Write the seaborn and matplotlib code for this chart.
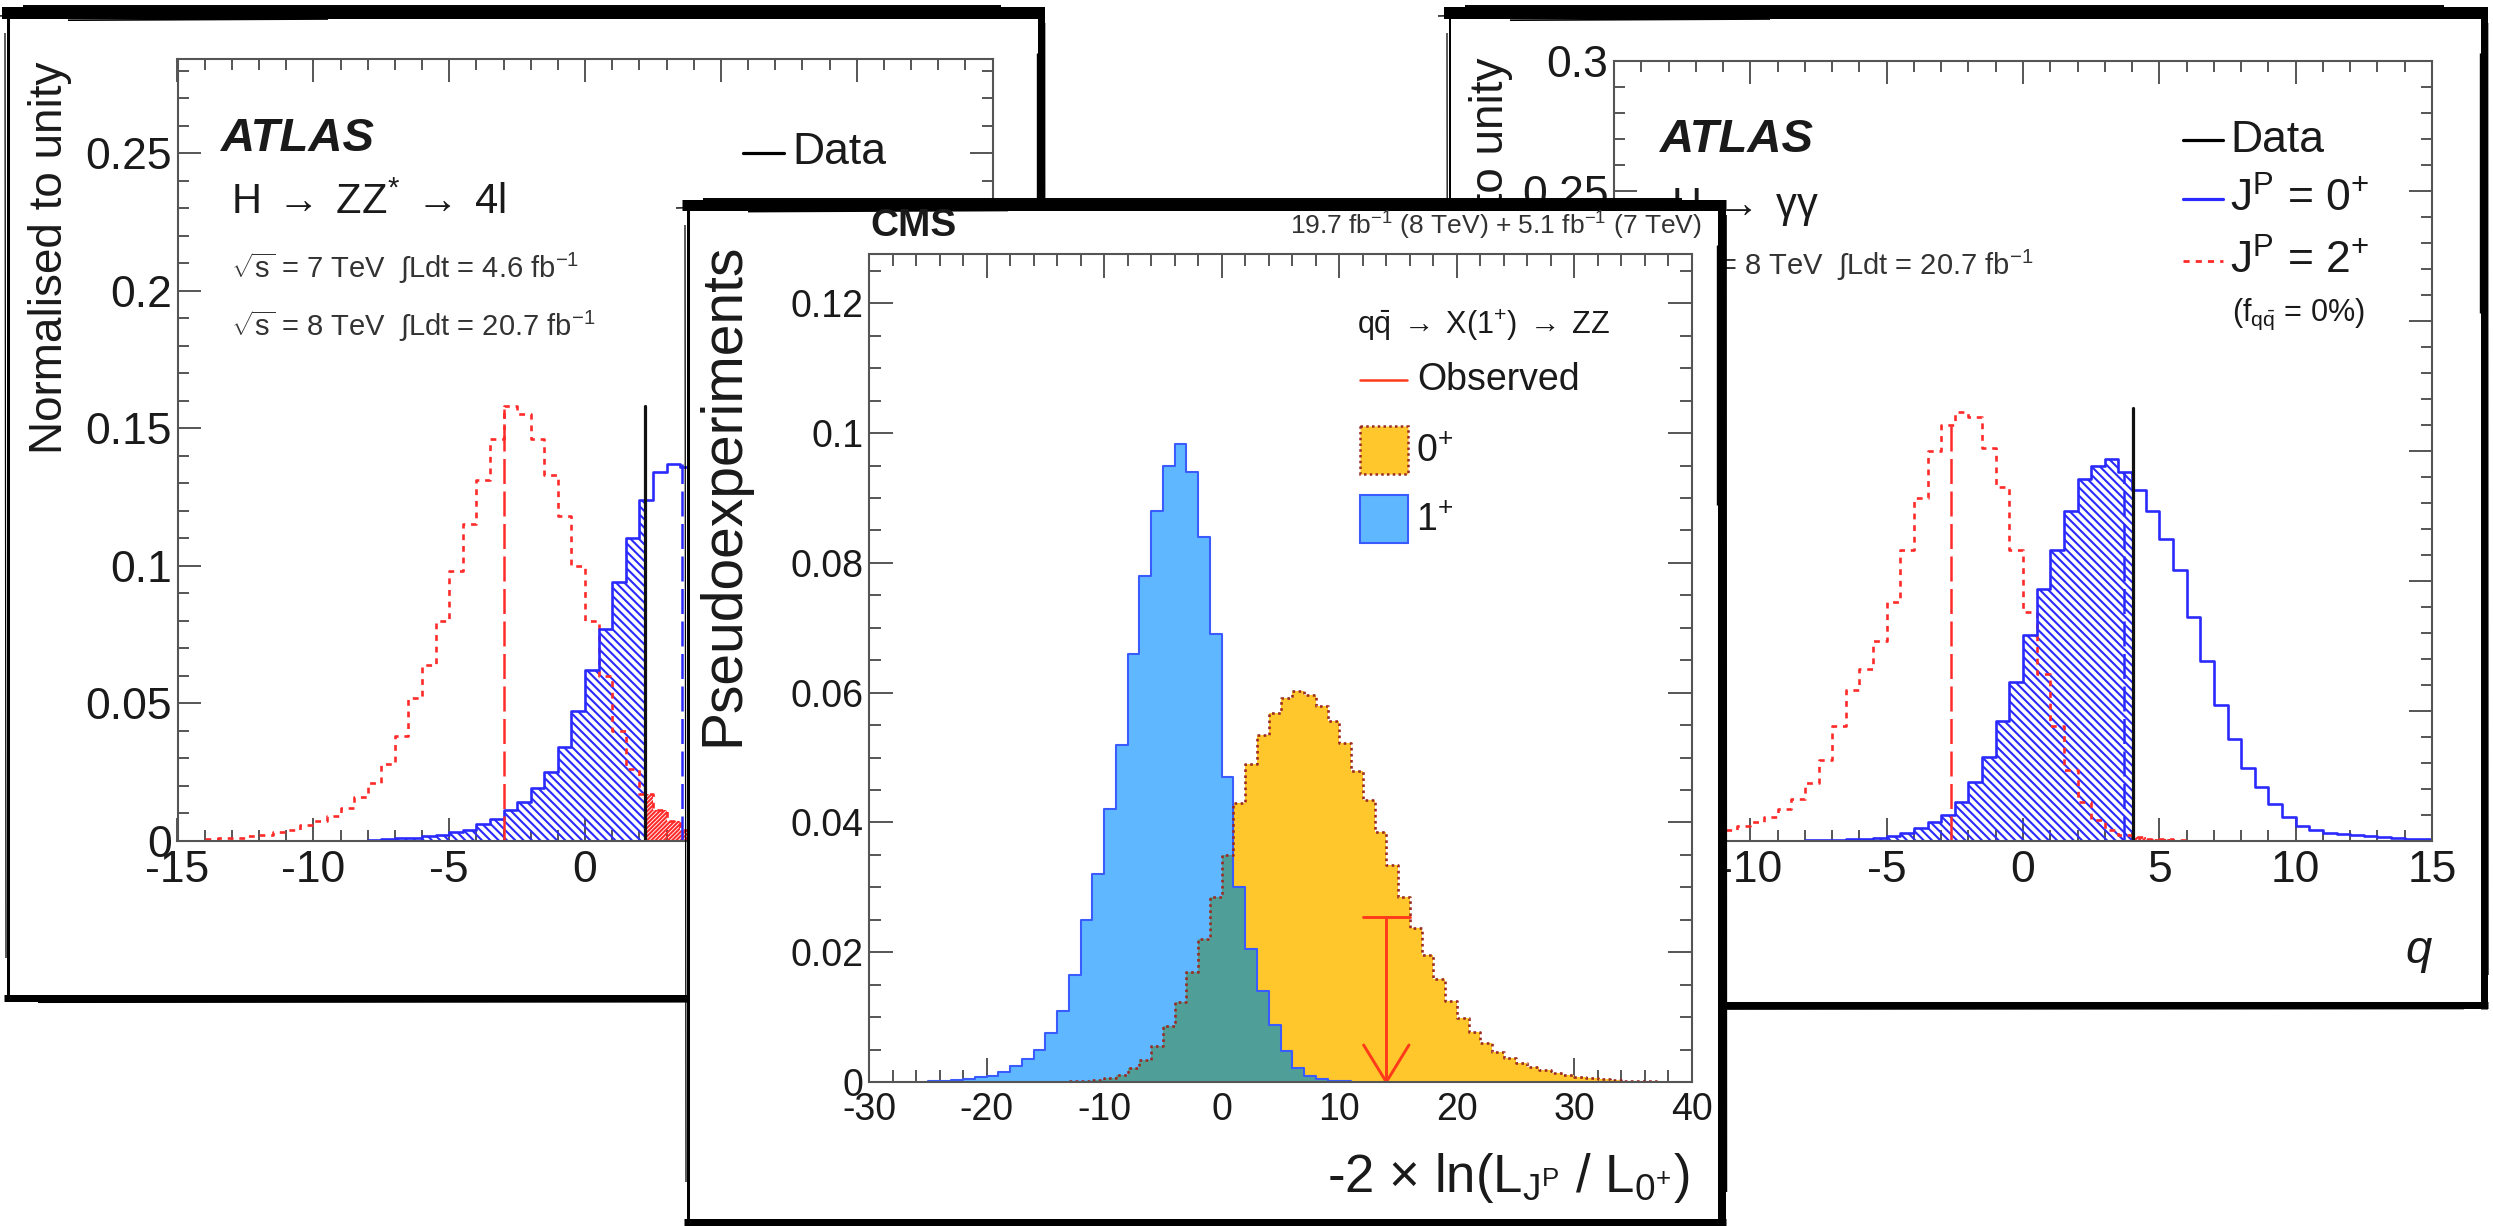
import numpy as np
import pandas as pd
import matplotlib
matplotlib.use("Agg")
import matplotlib.pyplot as plt
import matplotlib.transforms as mtransforms
from matplotlib.patches import Rectangle
from matplotlib.ticker import MultipleLocator
import seaborn as sns

W, H = 2493, 1226

# ---------------- ATLAS  H -> ZZ* -> 4l ----------------
zz_bin_width = 0.5
zz_spin2_first_centre = -13.75
zz_spin2 = [0.0005, 0.0008, 0.001, 0.0015, 0.002, 0.003, 0.004, 0.0055, 0.007, 0.009,
            0.012, 0.016, 0.021, 0.028, 0.038, 0.052, 0.064, 0.080, 0.098, 0.115,
            0.131, 0.146, 0.158, 0.155, 0.146, 0.133, 0.118, 0.100, 0.080, 0.060,
            0.040, 0.026, 0.017, 0.011, 0.007, 0.004, 0.002, 0.001]
zz_spin0_first_centre = -7.75
zz_spin0 = [0.0003, 0.0005, 0.0008, 0.001, 0.0015, 0.002, 0.003, 0.004, 0.006, 0.008,
            0.011, 0.014, 0.019, 0.025, 0.034, 0.047, 0.062, 0.077, 0.094, 0.110,
            0.124, 0.134, 0.137, 0.136, 0.131, 0.122, 0.110, 0.096, 0.080, 0.064,
            0.049, 0.036, 0.025, 0.017, 0.011, 0.007, 0.004]
zz_data_q = 2.2
zz_data_top = 0.158
zz_spin2_median = -3.0
zz_spin2_median_top = 0.157
zz_spin0_median = 3.55
zz_spin0_median_top = 0.137
zz_yticks = [0, 0.05, 0.1, 0.15, 0.2, 0.25]
zz_ytick_labels = ["0", "0.05", "0.1", "0.15", "0.2", "0.25"]
zz_ymax = 0.2842

# ---------------- ATLAS  H -> gamma gamma ----------------
gg_bin_width = 0.5
gg_spin2_first_centre = -11.75
gg_spin2 = [0.002, 0.003, 0.004, 0.0055, 0.007, 0.009, 0.012, 0.016, 0.022, 0.031,
            0.044, 0.058, 0.066, 0.077, 0.092, 0.112, 0.132, 0.150, 0.160, 0.165,
            0.163, 0.151, 0.136, 0.112, 0.088, 0.064, 0.044, 0.027, 0.015, 0.008,
            0.004, 0.002, 0.0012, 0.0008, 0.0005, 0.0003]
gg_spin0_first_centre = -7.75
gg_spin0 = [0.0002, 0.0003, 0.0004, 0.0006, 0.0008, 0.0011, 0.0017, 0.0030, 0.0048, 0.0072,
            0.0100, 0.0150, 0.0225, 0.0320, 0.0460, 0.0610, 0.0790, 0.0970, 0.1120, 0.1270,
            0.1390, 0.1440, 0.1470, 0.1420, 0.1350, 0.1270, 0.1160, 0.1040, 0.0860, 0.0690,
            0.0520, 0.0390, 0.0280, 0.0205, 0.0140, 0.0090, 0.0058, 0.0040, 0.0030, 0.0024,
            0.0020, 0.0017, 0.0014, 0.0011, 0.0008, 0.0005]
gg_data_q = 4.02
gg_data_top = 0.1665
gg_spin2_median = -2.65
gg_spin2_median_top = 0.160
gg_spin0_median = 3.7
gg_spin0_median_top = 0.142
gg_yticks = [0, 0.05, 0.1, 0.15, 0.2, 0.25, 0.3]
gg_ytick_labels = ["0", "0.05", "0.1", "0.15", "0.2", "0.25", "0.3"]
gg_ymax = 0.3

atlas_xticks = [-15, -10, -5, 0, 5, 10, 15]
atlas_xtick_labels = ["-15", "-10", "-5", "0", "5", "10", "15"]

# ---------------- CMS  qqbar -> X(1+) -> ZZ ----------------
cms_bin_width = 1.0
cms_spin1_first_centre = -24.5
cms_spin1 = [0.0001, 0.0002, 0.0003, 0.0004, 0.0007, 0.0010, 0.0016, 0.0024, 0.0035, 0.0050,
             0.0075, 0.0110, 0.0165, 0.0250, 0.0320, 0.0420, 0.0520, 0.0660, 0.0780, 0.0880,
             0.0950, 0.0983, 0.0940, 0.0840, 0.0690, 0.0470, 0.0300, 0.0205, 0.0140, 0.0088,
             0.0048, 0.0022, 0.0009, 0.0004, 0.0002, 0.0001]
cms_spin0_first_centre = -12.5
cms_spin0 = [0.0001, 0.0002, 0.0003, 0.0006, 0.0011, 0.0021, 0.0034, 0.0056, 0.0086, 0.0124,
             0.0170, 0.0220, 0.0285, 0.0350, 0.0430, 0.0490, 0.0535, 0.0568, 0.0592, 0.0602,
             0.0597, 0.0580, 0.0556, 0.0522, 0.0480, 0.0435, 0.0385, 0.0335, 0.0285, 0.0238,
             0.0195, 0.0158, 0.0125, 0.0098, 0.0077, 0.0060, 0.0047, 0.0037, 0.0029, 0.0023,
             0.0018, 0.0014, 0.0011, 0.0008, 0.0006, 0.0004, 0.0003, 0.0002, 0.0001, 0.0001]
cms_observed = 14.0
cms_observed_top = 0.0254
cms_xticks = [-30, -20, -10, 0, 10, 20, 30, 40]
cms_xtick_labels = ["-30", "-20", "-10", "0", "10", "20", "30", "40"]
cms_yticks = [0, 0.02, 0.04, 0.06, 0.08, 0.1, 0.12]
cms_ytick_labels = ["0", "0.02", "0.04", "0.06", "0.08", "0.1", "0.12"]
cms_ymax = 0.1276

# ---------------- colours ----------------
A_RED = "#ff2a2a"
A_BLUE = "#2a2aff"
C_ORANGE = "#ffc72c"
C_LBLUE = "#5fb8ff"
C_BLUE_EDGE = "#3a5cff"
C_TEAL = "#4f9f98"
C_DARKRED = "#9b2a22"
C_OBS = "#ff3a1a"
AX_GREY = "#555555"

# ---------------- style ----------------
sns.set_style("ticks")
plt.rcParams["font.family"] = ["Liberation Sans", "DejaVu Sans"]
plt.rcParams["mathtext.fontset"] = "custom"
plt.rcParams["mathtext.rm"] = "Liberation Sans"
plt.rcParams["mathtext.it"] = "Liberation Sans:italic"
plt.rcParams["mathtext.bf"] = "Liberation Sans:bold"
plt.rcParams["mathtext.sf"] = "Liberation Sans"
plt.rcParams["axes.unicode_minus"] = False
plt.rcParams["hatch.linewidth"] = 1.5
for ax_name in ("xtick", "ytick"):
    plt.rcParams[f"{ax_name}.direction"] = "in"
    plt.rcParams[f"{ax_name}.color"] = AX_GREY
    plt.rcParams[f"{ax_name}.major.width"] = 1.4
    plt.rcParams[f"{ax_name}.minor.width"] = 1.4
    plt.rcParams[f"{ax_name}.minor.visible"] = True
plt.rcParams["xtick.top"] = True
plt.rcParams["xtick.bottom"] = True
plt.rcParams["ytick.left"] = True
plt.rcParams["ytick.right"] = True
TXT = "#1a1a1a"

fig = plt.figure(figsize=(W / 100, H / 100), dpi=100)
PX = mtransforms.Affine2D().scale(1.0 / W, -1.0 / H).translate(0, 1) + fig.transFigure


def rect(x0, y0, x1, y1):
    return [x0 / W, 1 - y1 / H, (x1 - x0) / W, (y1 - y0) / H]


def hist_frame(first_centre, width, values):
    vals = np.asarray(values, float)
    centres = first_centre + width * np.arange(len(vals))
    edges = np.append(centres - width / 2, centres[-1] + width / 2)
    return pd.DataFrame({"q": centres, "w": vals}), edges


def hist(ax, df, edges, width, **kw):
    sns.histplot(data=df, x="q", weights="w", binwidth=width,
                 binrange=(float(edges[0]), float(edges[-1])), element="step", ax=ax, **kw)


def clipped_steps(df, edges, lo, hi):
    vals = df["w"].to_numpy()
    xs = [lo] + [e for e in edges if lo < e < hi] + [hi]

    def val_at(x):
        i = np.searchsorted(edges, x, side="right") - 1
        return vals[i] if 0 <= i < len(vals) else 0.0

    ys = [val_at(x) for x in xs[:-1]]
    ys.append(ys[-1])
    return np.array(xs), np.array(ys)


def card(x0, y0, x1, y1, lw_top, lw_right, lw_bottom, lw_left):
    ax = fig.add_axes(rect(x0, y0, x1, y1))
    ax.set_axis_off()
    ax.add_patch(Rectangle((0, 0), 1, 1, transform=ax.transAxes,
                           facecolor="white", edgecolor="none", zorder=0))
    k = dict(color="black", transform=PX, clip_on=False, solid_capstyle="butt")
    ax.plot([x0 - 6, x1 + 4], [y0, y0], lw=lw_top * 0.72, **k)
    ax.plot([x1, x1], [y0 - 4, y1 + 4], lw=lw_right * 0.72, **k)
    ax.plot([x0 - 4, x1 + 4], [y1, y1], lw=lw_bottom * 0.72, **k)
    ax.plot([x0, x0], [y0 - 2, y1 + 2], lw=lw_left * 0.72, **k)
    ax.plot([x0 + 15, x1 - 40], [y0 - lw_top * 0.55, y0 - lw_top * 0.55], lw=1.4, **k)
    ax.plot([x0 + 60, x0 + 320], [y0 + lw_top * 0.6, y0 + lw_top * 0.5], lw=1.2, **k)
    ax.plot([x0 - 12, x0 + 40], [y0 + 3, y0 + 2], lw=1.0, **k)
    ax.plot([x1 + lw_right * 0.5, x1 + lw_right * 0.55], [y0 + 10, y1 - 30], lw=1.2, **k)
    ax.plot([x1 - lw_right * 0.6, x1 - lw_right * 0.6], [y0 + 40, y0 + 300], lw=1.0, **k)
    ax.plot([x0 + 30, x1 - 20], [y1 + lw_bottom * 0.6, y1 + lw_bottom * 0.5], lw=1.2, **k)
    ax.plot([x0 - 3, x0 - 2], [y0 + 20, y1 - 40], lw=0.9, **k)
    return ax


def style_axes(ax, major_len, minor_len, labelsize, pad_x, pad_y):
    ax.minorticks_on()
    for which, length in (("major", major_len), ("minor", minor_len)):
        ax.tick_params(axis="both", which=which, direction="in", length=length,
                       width=1.4, color=AX_GREY, bottom=True, top=True, left=True,
                       right=True)
    ax.tick_params(axis="both", which="major", labelsize=labelsize, labelcolor=TXT)
    ax.tick_params(axis="x", which="major", pad=pad_x)
    ax.tick_params(axis="y", which="major", pad=pad_y)
    for s in ax.spines.values():
        s.set_color(AX_GREY)
        s.set_linewidth(1.5)
        s.set_visible(True)
    ax.set_xlabel("")
    ax.set_ylabel("")


def atlas_panel(ax, s2, e2, s0, e0, width, data_q, data_top, m2, m2_top, m0, m0_top,
                ymax, yticks, ylabels):
    xs, ys = clipped_steps(s0, e0, -15, data_q)
    ax.fill_between(xs, 0, ys, step="post", facecolor="none", edgecolor=A_BLUE,
                    hatch="\\\\\\\\", linewidth=0)
    xs, ys = clipped_steps(s2, e2, data_q, 15)
    ax.fill_between(xs, 0, ys, step="post", facecolor="none", edgecolor=A_RED,
                    hatch="////////", linewidth=0)
    hist(ax, s2, e2, width, fill=False, color=A_RED, linewidth=1.9,
         linestyle=(0, (2.2, 2.2)))
    hist(ax, s0, e0, width, fill=False, color=A_BLUE, linewidth=1.9)
    ax.plot([m2, m2], [0, m2_top], color=A_RED, lw=1.8, linestyle=(0, (10, 3)))
    ax.plot([m0, m0], [0, m0_top], color=A_BLUE, lw=1.8, linestyle=(0, (10, 3)))
    ax.plot([data_q, data_q], [0, data_top], color="#111111", lw=2.3)
    ax.set_xlim(-15, 15)
    ax.set_ylim(0, ymax)
    ax.set_xticks(atlas_xticks, atlas_xtick_labels)
    ax.set_yticks(yticks, ylabels)
    style_axes(ax, 16.5, 8, 32, 7, 4)
    ax.xaxis.set_minor_locator(MultipleLocator(1))
    ax.yaxis.set_minor_locator(MultipleLocator(0.01))


# ================= left card: ATLAS ZZ =================
card(8, 13, 1041, 998, 12, 7, 7, 3)
ax1 = fig.add_axes(rect(177.5, 59, 992.6, 840.6))
zz2_df, zz2_edges = hist_frame(zz_spin2_first_centre, zz_bin_width, zz_spin2)
zz0_df, zz0_edges = hist_frame(zz_spin0_first_centre, zz_bin_width, zz_spin0)
atlas_panel(ax1, zz2_df, zz2_edges, zz0_df, zz0_edges, zz_bin_width, zz_data_q, zz_data_top,
            zz_spin2_median, zz_spin2_median_top, zz_spin0_median, zz_spin0_median_top,
            zz_ymax, zz_yticks, zz_ytick_labels)
ax1.text(50, 61, "Normalised to unity", transform=PX, rotation=90, ha="center",
         va="top", fontsize=33, color=TXT)
ax1.text(221, 139, "ATLAS", transform=PX, fontsize=34, fontweight="bold",
         fontstyle="italic", ha="left", va="center", color=TXT)
ax1.text(231, 203, r"H$\;\rightarrow\;$ZZ$^{*}\;\rightarrow\;$4l", transform=PX,
         fontsize=30, ha="left", va="center", color=TXT)
ax1.text(231, 268, r"$\sqrt{\mathrm{s}}$ = 7 TeV  $\int$Ldt = 4.6 fb$^{\mathrm{-1}}$",
         transform=PX, fontsize=21, ha="left", va="center", color="#333333")
ax1.text(231, 326, r"$\sqrt{\mathrm{s}}$ = 8 TeV  $\int$Ldt = 20.7 fb$^{\mathrm{-1}}$",
         transform=PX, fontsize=21, ha="left", va="center", color="#333333")
ax1.plot([743, 784], [153, 153], transform=PX, color="black", lw=2.3, clip_on=False)
ax1.text(792, 153, "Data", transform=PX, fontsize=32, ha="left", va="center", color=TXT)

# ================= right card: ATLAS gamma gamma =================
card(1450, 13, 2484, 1005, 12, 7, 7, 2)
ax2 = fig.add_axes(rect(1614, 61, 2432, 840.6))
gg2_df, gg2_edges = hist_frame(gg_spin2_first_centre, gg_bin_width, gg_spin2)
gg0_df, gg0_edges = hist_frame(gg_spin0_first_centre, gg_bin_width, gg_spin0)
atlas_panel(ax2, gg2_df, gg2_edges, gg0_df, gg0_edges, gg_bin_width, gg_data_q, gg_data_top,
            gg_spin2_median, gg_spin2_median_top, gg_spin0_median, gg_spin0_median_top,
            gg_ymax, gg_yticks, gg_ytick_labels)
ax2.text(1491, 57, "Normalised to unity", transform=PX, rotation=90, ha="center",
         va="top", fontsize=33, color=TXT)
ax2.text(1660, 140, "ATLAS", transform=PX, fontsize=34, fontweight="bold",
         fontstyle="italic", ha="left", va="center", color=TXT)
ax2.text(1671, 207, r"H$\;\rightarrow\;$γγ", transform=PX, fontsize=30, ha="left",
         va="center", color=TXT)
ax2.text(1669, 265, r"$\sqrt{\mathrm{s}}$ = 8 TeV  $\int$Ldt = 20.7 fb$^{\mathrm{-1}}$",
         transform=PX, fontsize=21, ha="left", va="center", color="#333333")
ax2.plot([2183, 2223], [140, 140], transform=PX, color="black", lw=2.3, clip_on=False)
ax2.text(2230, 140, "Data", transform=PX, fontsize=32, ha="left", va="center", color=TXT)
ax2.plot([2183, 2223], [199, 199], transform=PX, color=A_BLUE, lw=2.3, clip_on=False)
ax2.text(2230, 199, r"J$^{\mathrm{P}}$ = 0$^{+}$", transform=PX, fontsize=32, ha="left",
         va="center", color=TXT)
ax2.plot([2183, 2223], [261, 261], transform=PX, color=A_RED, lw=2.0,
         linestyle=(0, (2.2, 2.2)), clip_on=False)
ax2.text(2230, 261, r"J$^{\mathrm{P}}$ = 2$^{+}$", transform=PX, fontsize=32, ha="left",
         va="center", color=TXT)
ax2.text(2232, 314, r"(f$_{\mathrm{q\bar{q}}}$ = 0%)", transform=PX, fontsize=22,
         ha="left", va="center", color=TXT)
ax2.text(2432, 951, "q", transform=PX, fontsize=34, fontstyle="italic", ha="right",
         va="center", color=TXT)

# ================= centre card: CMS =================
card(688, 205, 1722, 1222, 11, 8, 7, 3)
ax3 = fig.add_axes(rect(869, 254, 1692, 1082))
c0_df, c0_edges = hist_frame(cms_spin0_first_centre, cms_bin_width, cms_spin0)
c1_df, c1_edges = hist_frame(cms_spin1_first_centre, cms_bin_width, cms_spin1)
ov = pd.merge(c0_df, c1_df, on="q", suffixes=("_0", "_1"))
ov["w"] = np.minimum(ov["w_0"], ov["w_1"])
ov_df = ov[["q", "w"]]
ov_edges = np.append(ov_df["q"].to_numpy() - cms_bin_width / 2,
                     ov_df["q"].iloc[-1] + cms_bin_width / 2)

hist(ax3, c0_df, c0_edges, cms_bin_width, fill=True, color=C_ORANGE, alpha=1, linewidth=0)
hist(ax3, c1_df, c1_edges, cms_bin_width, fill=True, color=C_LBLUE, alpha=1, linewidth=0)
hist(ax3, ov_df, ov_edges, cms_bin_width, fill=True, color=C_TEAL, alpha=1, linewidth=0)
hist(ax3, c1_df, c1_edges, cms_bin_width, fill=False, color=C_BLUE_EDGE, linewidth=1.5)
hist(ax3, c0_df, c0_edges, cms_bin_width, fill=False, color=C_DARKRED, linewidth=1.9,
     linestyle=(0, (1, 1.3)))
ax3.plot([cms_observed, cms_observed], [0, cms_observed_top], color=C_OBS, lw=2.1)
ax3.plot([cms_observed - 2, cms_observed + 2], [cms_observed_top, cms_observed_top],
         color=C_OBS, lw=2.1)
ax3.plot([cms_observed - 1.93, cms_observed, cms_observed + 1.93], [0.0057, 0, 0.0057],
         color=C_OBS, lw=2.1)
ax3.set_xlim(-30, 40)
ax3.set_ylim(0, cms_ymax)
ax3.set_xticks(cms_xticks, cms_xtick_labels)
ax3.set_yticks(cms_yticks, cms_ytick_labels)
style_axes(ax3, 17, 8.5, 27, 7, 4)
ax3.xaxis.set_minor_locator(MultipleLocator(2))
ax3.yaxis.set_minor_locator(MultipleLocator(0.005))

ax3.text(870, 226, "CMS", transform=PX, fontsize=28, fontweight="bold", ha="left",
         va="center", color=TXT)
ax3.text(1702, 226, r"19.7 fb$^{\mathrm{-1}}$ (8 TeV) + 5.1 fb$^{\mathrm{-1}}$ (7 TeV)",
         transform=PX, fontsize=19, ha="right", va="center", color="#333333")
ax3.text(723, 243, "Pseudoexperiments", transform=PX, rotation=90, ha="center",
         va="top", fontsize=41, color=TXT)
ax3.text(1689, 1178,
         r"-2 $\times$ ln(L$_{\mathrm{J}^{\mathrm{P}}}$ / L$_{\mathrm{0}^{+}}$)",
         transform=PX, fontsize=38, ha="right", va="center", color=TXT)
ax3.text(1357, 325, r"q$\bar{\mathrm{q}}\;\rightarrow\;$X(1$^{+}$)$\;\rightarrow\;$ZZ",
         transform=PX, fontsize=22, ha="left", va="center", color=TXT)
ax3.plot([1360, 1407], [380, 380], transform=PX, color=C_OBS, lw=1.8, clip_on=False)
ax3.text(1417, 380, "Observed", transform=PX, fontsize=27, ha="left", va="center",
         color=TXT)
ax3.add_patch(Rectangle((1360, 426), 48, 48, transform=PX, facecolor=C_ORANGE,
                        edgecolor=C_DARKRED, linewidth=1.8, linestyle=(0, (1, 1.3)),
                        clip_on=False))
ax3.text(1416, 452, r"0$^{+}$", transform=PX, fontsize=27, ha="left", va="center",
         color=TXT)
ax3.add_patch(Rectangle((1360, 495), 48, 48, transform=PX, facecolor=C_LBLUE,
                        edgecolor=C_BLUE_EDGE, linewidth=1.5, clip_on=False))
ax3.text(1416, 521, r"1$^{+}$", transform=PX, fontsize=27, ha="left", va="center",
         color=TXT)

fig.savefig("out.png", dpi=100)
